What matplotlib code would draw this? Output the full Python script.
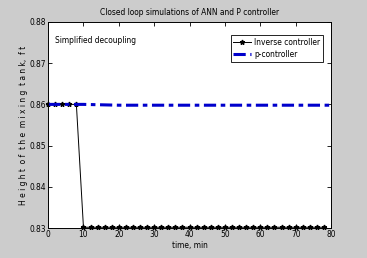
import matplotlib
matplotlib.use("Agg")
import matplotlib.pyplot as plt
from matplotlib import font_manager

# inverse (ANN) controller, sampled every 2 min
t_inv = list(range(0, 80, 2))
h_inv = [0.8600] * 5 + [0.8302] * 35

# p-controller
t_p = [0, 5, 10, 15, 20, 30, 40, 50, 60, 70, 80]
h_p = [0.8600, 0.8600, 0.8600, 0.8599, 0.8598, 0.8598, 0.8598, 0.8598, 0.8598, 0.8598, 0.8598]

xticks = [0, 10, 20, 30, 40, 50, 60, 70, 80]
yticks = [0.83, 0.84, 0.85, 0.86, 0.87, 0.88]

# look for a narrow face (the original uses an Arial Narrow look)
narrow = [f for f in font_manager.fontManager.ttflist
          if ("Narrow" in f.name or "Condensed" in f.name or f.stretch in ("condensed", "semi-condensed"))]
if narrow:
    fam, stretch = narrow[0].name, narrow[0].stretch
else:
    fam, stretch = "DejaVu Sans", "normal"
plt.rcParams.update({"font.family": fam, "font.stretch": stretch, "font.size": 6})

fig = plt.figure(figsize=(3.67, 2.58), dpi=100, facecolor="#cccccc")
ax = fig.add_axes([0.131, 0.116, 0.771, 0.799])
ax.set_facecolor("white")

ax.plot(t_inv, h_inv, color="black", lw=0.7, marker="*", ms=3.5,
        clip_on=False, label="Inverse controller")
ax.plot(t_p, h_p, color="#0000cc", lw=2.2, ls="-.", dashes=(4, 1.5, 1.5, 1.5),
        label="p-controller")

ax.set_xlim(0, 80)
ax.set_ylim(0.83, 0.88)
ax.set_xticks(xticks)
ax.set_yticks(yticks)
ax.set_yticklabels([f"{v:.2f}" for v in yticks])
ax.tick_params(direction="in", top=True, right=True, length=3, width=0.6, pad=1.5)
for s in ax.spines.values():
    s.set_linewidth(0.7)

ax.set_title("Closed loop simulations of ANN and P controller", fontsize=6, pad=5)
ax.set_xlabel("time, min", labelpad=1)
ax.set_ylabel("H e i g h t  o f  t h e  m i x i n g  t a n k,  f t", labelpad=1)
ax.text(0.025, 0.91, "Simplified decoupling", transform=ax.transAxes, va="center")

leg = ax.legend(loc="upper right", fancybox=False, framealpha=1,
                edgecolor="black", handlelength=2.2, handletextpad=0.3,
                borderpad=0.3, labelspacing=0.4, bbox_to_anchor=(0.985, 0.955))
leg.get_frame().set_linewidth(0.6)

fig.savefig("out.png", dpi=100, facecolor=fig.get_facecolor())
